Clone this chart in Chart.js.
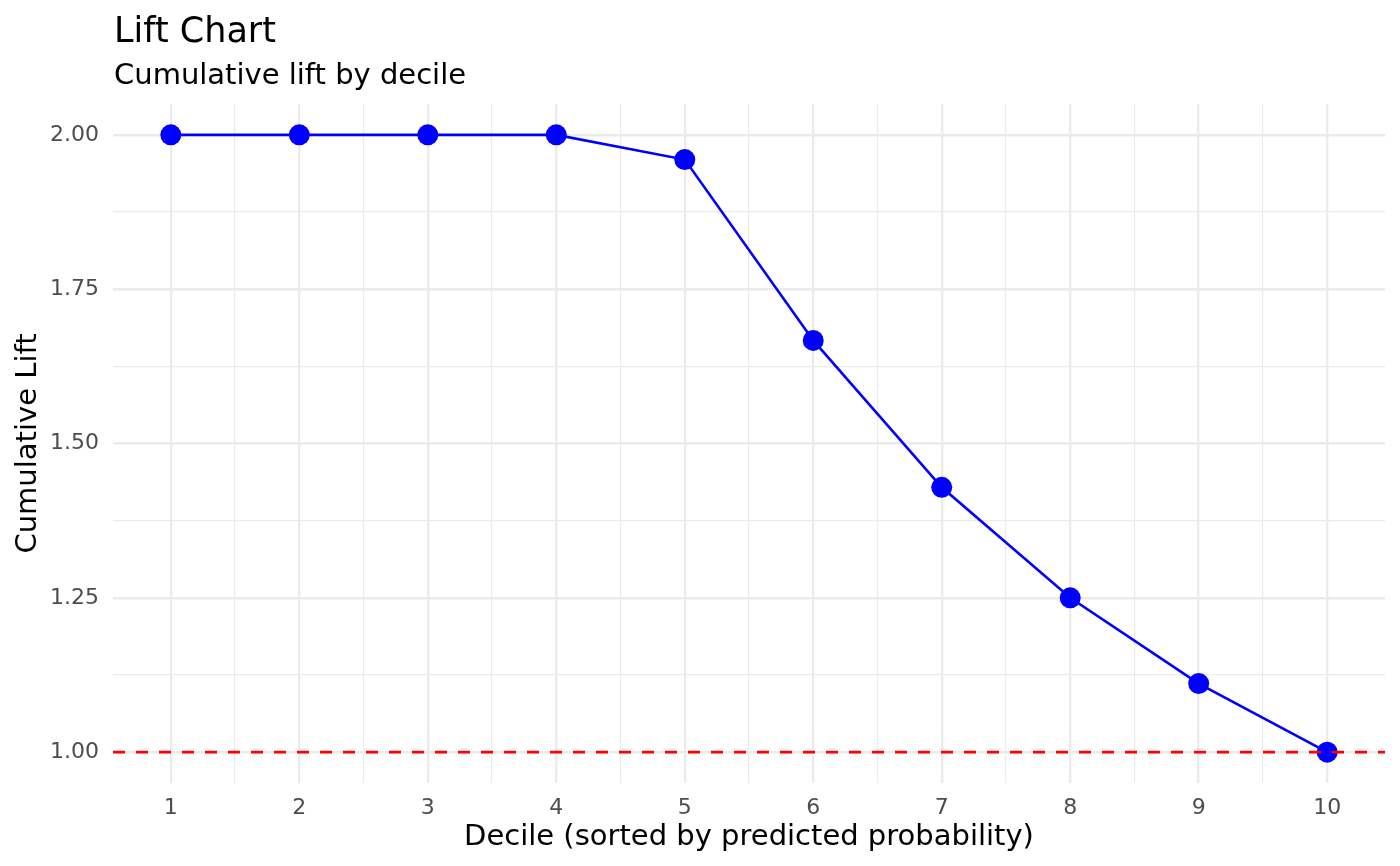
<!DOCTYPE html>
<html>
<head>
<meta charset="utf-8">
<script src="https://cdn.jsdelivr.net/npm/chart.js@4.4.1/dist/chart.umd.min.js"></script>
<style>
  html, body { margin: 0; padding: 0; background: #ffffff; }
  #wrap { width: 1400px; height: 866px; }
</style>
</head>
<body>
<div id="wrap"><canvas id="grafico" width="1400" height="866"></canvas></div>
<script>
// dados do gráfico
const deciles = [1, 2, 3, 4, 5, 6, 7, 8, 9, 10];
const cumulativeLift = [2.00, 2.00, 2.00, 2.00, 1.96, 1.667, 1.429, 1.25, 1.111, 1.00];
const baselineLift = 1.00;

const xTicks = [1, 1.5, 2, 2.5, 3, 3.5, 4, 4.5, 5, 5.5, 6, 6.5, 7, 7.5, 8, 8.5, 9, 9.5, 10];
const yTicks = [1.00, 1.125, 1.25, 1.375, 1.50, 1.625, 1.75, 1.875, 2.00];
const xLimits = [0.55, 10.45];
const yLimits = [0.95, 2.05];

const titleText = 'Lift Chart';
const subtitleText = 'Cumulative lift by decile';
const xTitle = 'Decile (sorted by predicted probability)';
const yTitle = 'Cumulative Lift';

const FONT = '"DejaVu Sans", "Liberation Sans", sans-serif';

function isMajorX(v) { return Math.abs(v - Math.round(v)) < 1e-9; }
function isMajorY(v) { return Math.abs(v * 4 - Math.round(v * 4)) < 1e-9; }

// linha de referência tracejada + títulos
const extras = {
    id: 'extras',
    afterDatasetsDraw(chart) {
        const { ctx, chartArea, scales } = chart;
        const y = scales.y.getPixelForValue(baselineLift);
        ctx.save();
        ctx.strokeStyle = '#FF0000';
        ctx.lineWidth = 2.6;
        ctx.setLineDash([12, 11]);
        ctx.beginPath();
        ctx.moveTo(chartArea.left, y);
        ctx.lineTo(chartArea.right, y);
        ctx.stroke();
        ctx.restore();
    },
    afterDraw(chart) {
        const { ctx, chartArea } = chart;
        ctx.save();
        ctx.fillStyle = '#000000';
        ctx.textAlign = 'left';
        ctx.textBaseline = 'alphabetic';
        ctx.font = '35px ' + FONT;
        ctx.fillText(titleText, chartArea.left + 1, 42);
        ctx.font = '29px ' + FONT;
        ctx.fillText(subtitleText, chartArea.left + 1, 84);
        ctx.restore();
    }
};

const ctx = document.getElementById('grafico').getContext('2d');
const grafico = new Chart(ctx, {
    type: 'line',
    data: {
        datasets: [{
            label: 'Cumulative Lift',
            data: deciles.map((d, i) => ({ x: d, y: cumulativeLift[i] })),
            borderColor: '#0000FF',
            backgroundColor: '#0000FF',
            borderWidth: 2.6,
            pointRadius: 10.5,
            pointHoverRadius: 10.5,
            pointBorderWidth: 0,
            pointBackgroundColor: '#0000FF',
            tension: 0,
            fill: false
        }]
    },
    options: {
        responsive: false,
        animation: false,
        devicePixelRatio: 1,
        layout: { padding: { top: 104, right: 15, left: 0, bottom: 0 } },
        plugins: {
            legend: { display: false },
            tooltip: { enabled: false },
            title: { display: false }
        },
        scales: {
            x: {
                type: 'linear',
                min: xLimits[0],
                max: xLimits[1],
                afterBuildTicks: scale => { scale.ticks = xTicks.map(v => ({ value: v })); },
                afterFit: scale => { scale.height = 83; },
                border: { display: false },
                grid: {
                    color: '#EBEBEB',
                    lineWidth: c => (c.tick && isMajorX(c.tick.value)) ? 2.4 : 1.2,
                    drawTicks: false
                },
                ticks: {
                    autoSkip: false,
                    maxRotation: 0,
                    padding: 12,
                    color: '#4D4D4D',
                    font: { family: FONT, size: 22 },
                    callback: v => isMajorX(v) ? String(Math.round(v)) : ''
                },
                title: {
                    display: true,
                    text: xTitle,
                    color: '#000000',
                    font: { family: FONT, size: 29 },
                    padding: { top: 0, bottom: 11 }
                }
            },
            y: {
                type: 'linear',
                min: yLimits[0],
                max: yLimits[1],
                afterBuildTicks: scale => { scale.ticks = yTicks.map(v => ({ value: v })); },
                afterFit: scale => { scale.width = 113; },
                border: { display: false },
                grid: {
                    color: '#EBEBEB',
                    lineWidth: c => (c.tick && isMajorY(c.tick.value)) ? 2.4 : 1.2,
                    drawTicks: false
                },
                ticks: {
                    autoSkip: false,
                    padding: 14,
                    color: '#4D4D4D',
                    font: { family: FONT, size: 22 },
                    callback: v => isMajorY(v) ? v.toFixed(2) : ''
                },
                title: {
                    display: true,
                    text: yTitle,
                    color: '#000000',
                    font: { family: FONT, size: 29 },
                    padding: { top: 11, bottom: 0 }
                }
            }
        }
    },
    plugins: [extras]
});
</script>
</body>
</html>
